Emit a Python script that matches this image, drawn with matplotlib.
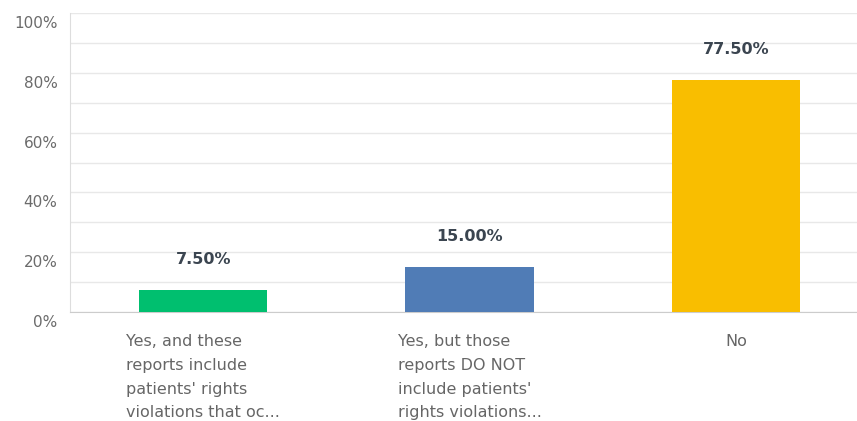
import matplotlib.pyplot as plt
from matplotlib.ticker import MultipleLocator, FuncFormatter
from matplotlib.transforms import ScaledTranslation

categories = [
    "Yes, and these\nreports include\npatients' rights\nviolations that oc...",
    "Yes, but those\nreports DO NOT\ninclude patients'\nrights violations...",
    "No",
]
values = [7.50, 15.00, 77.50]
colors = ["#00bf6f", "#507cb6", "#f9be00"]

plt.rcParams['font.family'] = ['DejaVu Sans']

fig = plt.figure(figsize=(8.57, 4.21), dpi=100)
ax = fig.add_axes([70 / 857, 109 / 421, 787 / 857, 299 / 421])

x = range(len(values))
ax.bar(x, values, width=128 / 266, color=colors, zorder=3)

for i, v in enumerate(values):
    ax.annotate(f"{v:.2f}%", (i, v), xytext=(0, 22), textcoords="offset points",
                ha="center", va="center", fontsize=11.5, fontweight="bold",
                color="#3b4550")

ax.set_xlim(-0.5, 2.5 - 12 / 266)
ax.set_ylim(0, 100)
ax.yaxis.set_major_locator(MultipleLocator(20))
ax.yaxis.set_minor_locator(MultipleLocator(10))
ax.yaxis.set_major_formatter(FuncFormatter(lambda v, p: f"{v:.0f}%"))
ax.grid(axis="y", which="both", color="#e8e8e8", linewidth=1, zorder=0)
ax.tick_params(axis="y", which="both", length=0, pad=9, labelsize=11, labelcolor="#6b6b6b")

# y labels sit a little below their gridlines
shift = ScaledTranslation(0, -9 / 100, fig.dpi_scale_trans)
for lab in ax.get_yticklabels():
    lab.set_transform(lab.get_transform() + shift)

ax.set_xticks(list(x))
ax.set_xticklabels([])
ax.tick_params(axis="x", length=0)
for i, c in enumerate(categories):
    ax.text(i, -7.5, c, ha="center", va="top", multialignment="left",
            fontsize=11.5, color="#666666", linespacing=1.72,
            transform=ax.transData, clip_on=False)

for s in ["top", "right"]:
    ax.spines[s].set_visible(False)
ax.spines["left"].set_color("#dddddd")
ax.spines["bottom"].set_color("#cccccc")

fig.savefig("out.png", dpi=100)
